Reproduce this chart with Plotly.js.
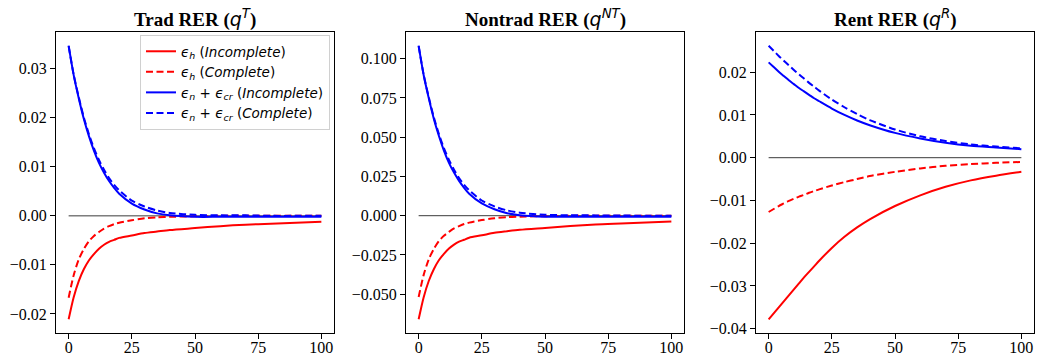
<!DOCTYPE html>
<html>
<head>
<meta charset="utf-8">
<script src="https://cdn.plot.ly/plotly-3.0.1.min.js"></script>
<style>
  html, body { margin: 0; padding: 0; background: #ffffff; }
  #chart { width: 1038px; height: 356px; }
</style>
</head>
<body>
<div id="chart"></div>
<script>
// ---------------- data ----------------
const periods = [0, 2, 4, 6, 8, 10, 12, 14, 16, 18, 20, 25, 30, 35, 40, 50, 60, 70, 80, 90, 100];

// Trad RER (q^T)
const tradHInc   = [-0.0211, -0.0166, -0.0133, -0.0109, -0.0091, -0.0078, -0.0067, -0.0059, -0.0053, -0.0049, -0.0045, -0.0040, -0.0035, -0.0032, -0.0029, -0.0025, -0.0021, -0.0018, -0.0016, -0.0014, -0.0012];
const tradHComp  = [-0.0167, -0.0121, -0.0089, -0.0068, -0.0052, -0.0041, -0.0033, -0.0026, -0.0021, -0.0017, -0.0014, -0.0009, -0.0005, -0.0003, -0.0002, -0.0001, 0.0, 0.0, 0.0, 0.0, 0.0];
const tradNInc   = [0.0347, 0.0287, 0.0240, 0.0198, 0.0163, 0.0133, 0.0108, 0.0088, 0.0071, 0.0057, 0.0045, 0.0025, 0.0013, 0.0005, 0.0001, -0.0002, -0.0002, -0.0002, -0.0002, -0.0002, -0.0002];
const tradNComp  = [0.0346, 0.0288, 0.0242, 0.0201, 0.0167, 0.0138, 0.0114, 0.0094, 0.0077, 0.0063, 0.0052, 0.0031, 0.0019, 0.0011, 0.0006, 0.0002, 0.0001, 0.0001, 0.0, 0.0, 0.0];

// Nontrad RER (q^NT)
const nontradHInc  = [-0.0660, -0.0519, -0.0416, -0.0341, -0.0284, -0.0243, -0.0209, -0.0184, -0.0165, -0.0153, -0.0140, -0.0125, -0.0109, -0.0099, -0.0090, -0.0078, -0.0066, -0.0056, -0.0050, -0.0044, -0.0037];
const nontradHComp = [-0.0518, -0.0377, -0.0278, -0.0212, -0.0162, -0.0128, -0.0103, -0.0081, -0.0066, -0.0053, -0.0044, -0.0028, -0.0016, -0.0009, -0.0006, -0.0003, -0.0001, 0.0, 0.0, 0.0, 0.0];
const nontradNInc  = [0.1083, 0.0895, 0.0749, 0.0618, 0.0509, 0.0415, 0.0337, 0.0275, 0.0222, 0.0178, 0.0140, 0.0078, 0.0041, 0.0016, 0.0003, -0.0006, -0.0006, -0.0006, -0.0006, -0.0006, -0.0006];
const nontradNComp = [0.1080, 0.0898, 0.0755, 0.0627, 0.0521, 0.0431, 0.0356, 0.0293, 0.0240, 0.0197, 0.0162, 0.0097, 0.0059, 0.0034, 0.0019, 0.0006, 0.0003, 0.0002, 0.0001, 0.0, 0.0];

// Rent RER (q^R)
const rentHInc   = [-0.0378, -0.0364, -0.0350, -0.0336, -0.0322, -0.0308, -0.0294, -0.0280, -0.0267, -0.0254, -0.0241, -0.0211, -0.0185, -0.0163, -0.0144, -0.0113, -0.0088, -0.0068, -0.0053, -0.0042, -0.0033];
const rentHComp  = [-0.0127, -0.0120, -0.0113, -0.0107, -0.0101, -0.0096, -0.0091, -0.0087, -0.0082, -0.0078, -0.0074, -0.0065, -0.0057, -0.0050, -0.0043, -0.0033, -0.0025, -0.0019, -0.0015, -0.0012, -0.0010];
const rentNInc   = [0.0223, 0.0212, 0.0201, 0.0191, 0.0181, 0.0172, 0.0163, 0.0155, 0.0147, 0.0139, 0.0132, 0.0115, 0.0100, 0.0087, 0.0076, 0.0058, 0.0045, 0.0035, 0.0028, 0.0024, 0.0020];
const rentNComp  = [0.0262, 0.0250, 0.0238, 0.0227, 0.0216, 0.0205, 0.0195, 0.0185, 0.0175, 0.0166, 0.0157, 0.0136, 0.0118, 0.0102, 0.0088, 0.0066, 0.0050, 0.0039, 0.0031, 0.0026, 0.0022];

const panelTitles = ['Trad RER', 'Nontrad RER', 'Rent RER'];
const panelSupers = ['T', 'NT', 'R'];
const legendLabels = [
  '<i>ϵ<sub>h</sub></i> (<i>Incomplete</i>)',
  '<i>ϵ<sub>h</sub></i> (<i>Complete</i>)',
  '<i>ϵ<sub>n</sub></i> + <i>ϵ<sub>cr</sub></i> (<i>Incomplete</i>)',
  '<i>ϵ<sub>n</sub></i> + <i>ϵ<sub>cr</sub></i> (<i>Complete</i>)'
];
const xTicks = [0, 25, 50, 75, 100];
const tradTicks = [-0.02, -0.01, 0.00, 0.01, 0.02, 0.03];
const nontradTicks = [-0.050, -0.025, 0.000, 0.025, 0.050, 0.075, 0.100];
const rentTicks = [-0.04, -0.03, -0.02, -0.01, 0.00, 0.01, 0.02];

// ---------------- chart ----------------
const W = 1038, H = 356;
const SERIF = 'Liberation Serif';
const panels = [
  { series: [tradHInc, tradHComp, tradNInc, tradNComp], ticks: tradTicks, dec: 2, px: [56, 334] },
  { series: [nontradHInc, nontradHComp, nontradNInc, nontradNComp], ticks: nontradTicks, dec: 3, px: [406, 684] },
  { series: [rentHInc, rentHComp, rentNInc, rentNComp], ticks: rentTicks, dec: 2, px: [756, 1034] }
];
const styles = [
  { color: '#ff0000', dash: 'solid' },
  { color: '#ff0000', dash: '7px,3.5px' },
  { color: '#0000ff', dash: 'solid' },
  { color: '#0000ff', dash: '7px,3.5px' }
];
const yDomain = [1 - 333 / H, 1 - 32 / H];
const fmt = (v, d) => v.toFixed(d).replace('-', '\u2212');

const traces = [];
const layout = {
  width: W, height: H,
  margin: { l: 0, r: 0, t: 0, b: 0 },
  paper_bgcolor: '#ffffff', plot_bgcolor: '#ffffff',
  font: { family: SERIF, size: 16, color: '#000' },
  showlegend: true,
  legend: {
    x: 140 / W, y: 1 - 35 / H, xanchor: 'left', yanchor: 'top',
    bgcolor: 'rgba(255,255,255,0.8)', bordercolor: '#d0d0d0', borderwidth: 1,
    font: { family: 'DejaVu Sans', size: 13.5, color: '#000' },
    itemwidth: 30
  },
  annotations: []
};

panels.forEach((p, i) => {
  const ax = i === 0 ? '' : String(i + 1);
  const xa = 'x' + ax, ya = 'y' + ax;
  const all = p.series.flat().concat([0]);
  const mn = Math.min(...all), mx = Math.max(...all);
  const pad = 0.05 * (mx - mn);
  const xmin = periods[0], xmax = periods[periods.length - 1];
  const xpad = 0.05 * (xmax - xmin);

  // zero line
  traces.push({
    x: [xmin, xmax], y: [0, 0], xaxis: xa, yaxis: ya, mode: 'lines',
    line: { color: '#3a3a3a', width: 1 }, showlegend: false, hoverinfo: 'skip'
  });
  p.series.forEach((s, k) => {
    traces.push({
      x: periods, y: s, xaxis: xa, yaxis: ya, mode: 'lines',
      name: legendLabels[k], showlegend: i === 0,
      line: { color: styles[k].color, dash: styles[k].dash, width: 2, shape: 'spline', smoothing: 0.8 }
    });
  });

  const common = {
    showgrid: false, zeroline: false, showline: true, mirror: true,
    linecolor: '#000', linewidth: 1, ticks: 'outside', ticklen: 5, tickwidth: 1, tickcolor: '#000',
    tickfont: { family: SERIF, size: 16, color: '#000' }
  };
  layout['xaxis' + ax] = Object.assign({}, common, {
    domain: [p.px[0] / W, p.px[1] / W], anchor: ya,
    range: [xmin - xpad, xmax + xpad], ticklabelstandoff: -5,
    tickmode: 'array', tickvals: xTicks, ticktext: xTicks.map(String)
  });
  layout['yaxis' + ax] = Object.assign({}, common, {
    domain: yDomain, anchor: xa,
    range: [mn - pad, mx + pad],
    tickmode: 'array', tickvals: p.ticks, ticktext: p.ticks.map(v => fmt(v, p.dec))
  });
  layout.annotations.push({
    xref: 'paper', yref: 'paper',
    x: (p.px[0] + p.px[1]) / 2 / W, y: 1 - 18 / H, xanchor: 'center', yanchor: 'middle',
    showarrow: false,
    font: { family: SERIF, size: 19, color: '#000' },
    text: '<b>' + panelTitles[i] + ' (</b><span style="font-family:DejaVu Sans">' +
          '<i>q</i><sup><i>' + panelSupers[i] + '</i></sup></span><b>)</b>'
  });
});

Plotly.newPlot('chart', traces, layout, { displayModeBar: false, staticPlot: true });
</script>
</body>
</html>
